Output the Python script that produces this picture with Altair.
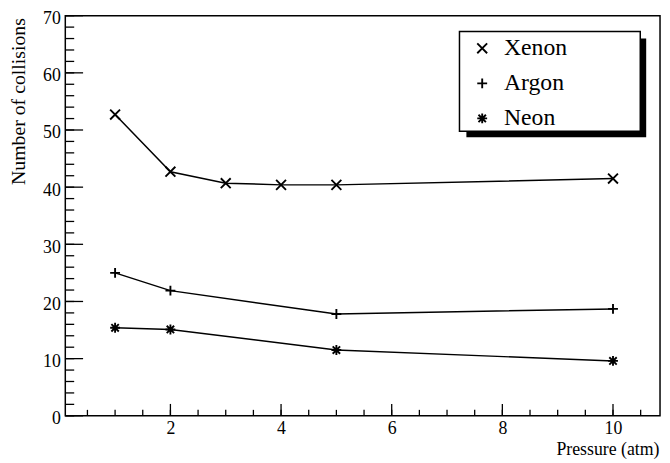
import altair as alt
import pandas as pd

gases = ["Xenon", "Argon", "Neon"]
xenon_p = [1, 2, 3, 4, 5, 10]
xenon_n = [52.7, 42.7, 40.7, 40.4, 40.4, 41.5]
argon_p = [1, 2, 5, 10]
argon_n = [25.0, 21.9, 17.8, 18.7]
neon_p = [1, 2, 5, 10]
neon_n = [15.4, 15.1, 11.5, 9.6]

y_major = list(range(0, 71, 10))
y_minor = list(range(0, 71, 2))
x_major = [2, 4, 6, 8, 10]
x_minor = [0.5 * i for i in range(1, 22)]

rows = []
for g, ps, ns in zip(gases, [xenon_p, argon_p, neon_p], [xenon_n, argon_n, neon_n]):
    for p, n in zip(ps, ns):
        rows.append({"gas": g, "p": p, "n": n})
df = pd.DataFrame(rows)

FONT = "Liberation Serif"
W, H = 602, 405

X_PATH = "M-1,-1L1,1M-1,1L1,-1"
PLUS_PATH = "M-1,0L1,0M0,-1L0,1"
STAR_PATH = "M-1,0L1,0M0,-1L0,1M-0.75,-0.75L0.75,0.75M-0.75,0.75L0.75,-0.75"
paths = [X_PATH, PLUS_PATH, STAR_PATH]

xs = alt.Scale(domain=[0.1, 10.85], nice=False, zero=False)
ys = alt.Scale(domain=[0, 70], nice=False, zero=False)
shape_scale = alt.Scale(domain=gases, range=paths)

x_axis = alt.Axis(orient="bottom", values=x_major, title="Pressure (atm)", ticks=False, domain=False, grid=False,
                  labelFont=FONT, labelFontSize=18, labelColor="black", labelPadding=4,
                  titleFont=FONT, titleFontSize=18, titleFontWeight="normal", titleColor="black",
                  titleX=601, titleY=39, titleAlign="right", titleBaseline="alphabetic")
y_axis = alt.Axis(orient="left", values=y_major, title="Number of collisions", ticks=False, domain=False, grid=False,
                  labelFont=FONT, labelFontSize=18, labelColor="black", labelPadding=5, labelOffset=3,
                  titleFont=FONT, titleFontSize=20, titleFontWeight="normal", titleColor="black",
                  titleX=-41, titleY=2, titleAngle=270, titleAlign="right", titleBaseline="alphabetic")

base = alt.Chart(df)
lines = base.mark_line(color="black", strokeWidth=1.5).encode(
    x=alt.X("p:Q", scale=xs, axis=x_axis),
    y=alt.Y("n:Q", scale=ys, axis=y_axis),
    detail="gas:N",
)
points = base.mark_point(filled=False, color="black", strokeWidth=1.9, size=100, opacity=1).encode(
    x=alt.X("p:Q", scale=xs, axis=x_axis),
    y=alt.Y("n:Q", scale=ys, axis=y_axis),
    shape=alt.Shape("gas:N", scale=shape_scale, legend=None),
)

def yticks(vals, length):
    return alt.Chart(pd.DataFrame({"n": vals})).mark_rule(color="black", strokeWidth=1.3).encode(
        y=alt.Y("n:Q", scale=ys, axis=y_axis), x=alt.value(0), x2=alt.value(length))

def xticks(vals, length):
    return alt.Chart(pd.DataFrame({"p": vals})).mark_rule(color="black", strokeWidth=1.3).encode(
        x=alt.X("p:Q", scale=xs, axis=x_axis), y=alt.value(H), y2=alt.value(H - length))

one = pd.DataFrame({"k": [0]})
shadow = alt.Chart(one).mark_rect(color="black").encode(
    x=alt.value(406), x2=alt.value(588), y=alt.value(23), y2=alt.value(123))
box = alt.Chart(one).mark_rect(fill="white", stroke="black", strokeWidth=1.5).encode(
    x=alt.value(399), x2=alt.value(582), y=alt.value(16), y2=alt.value(117))

leg_df = pd.DataFrame({"gas": gases})
legend_layers = []
for i, g in enumerate(gases):
    row_y = 33 + i * 35.5
    sub = alt.Chart(leg_df).transform_filter(alt.datum.gas == g)
    legend_layers.append(sub.mark_point(filled=False, color="black", strokeWidth=1.9, size=100, opacity=1).encode(
        x=alt.value(422), y=alt.value(row_y),
        shape=alt.Shape("gas:N", scale=shape_scale, legend=None)))
    legend_layers.append(sub.mark_text(font=FONT, fontSize=24, color="black", align="left", baseline="middle").encode(
        x=alt.value(444), y=alt.value(row_y), text="gas:N"))

chart = alt.layer(
    lines, points, yticks(y_major, 18), yticks(y_minor, 9),
    xticks(x_major, 12), xticks(x_minor, 6), shadow, box, *legend_layers
).properties(
    width=W, height=H,
    autosize=alt.AutoSizeParams(type="none"),
    padding={"left": 58, "top": 5, "right": 2, "bottom": 44},
).configure_view(stroke="black", strokeWidth=1.5)

chart.save("out.html", embed_options={"renderer": "svg", "actions": False})
